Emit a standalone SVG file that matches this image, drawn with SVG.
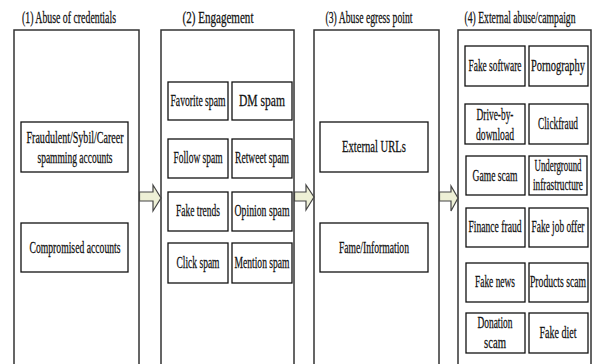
<svg xmlns="http://www.w3.org/2000/svg" width="592" height="364" viewBox="0 0 592 364">
<style>
text{font-family:"Liberation Serif","Times New Roman",serif;font-size:16px;fill:#111;stroke:#111;stroke-width:0.25;text-anchor:middle;transform:scale(0.6,1)}
.outer{fill:#fff;stroke:#333;stroke-width:1.5}
.inner{fill:#fff;stroke:#111;stroke-width:1.3}
.arrow{fill:#eef0d6;stroke:#444;stroke-width:1.2;stroke-linejoin:miter}
</style>
<rect width="592" height="364" fill="#fff"/>
<g id="col1">
<text x="115" y="23" textLength="156.7" lengthAdjust="spacingAndGlyphs">(1) Abuse of credentials</text>
<rect class="outer" x="14" y="30" width="125" height="340"/>
</g>
<g id="col2">
<text x="363.3" y="23" textLength="118.3" lengthAdjust="spacingAndGlyphs">(2) Engagement</text>
<rect class="outer" x="161" y="30" width="133" height="340"/>
</g>
<g id="col3">
<text x="615" y="23" textLength="145" lengthAdjust="spacingAndGlyphs">(3) Abuse egress point</text>
<rect class="outer" x="314" y="30" width="125" height="340"/>
</g>
<g id="col4">
<text x="866.7" y="23" textLength="185" lengthAdjust="spacingAndGlyphs">(4) External abuse/campaign</text>
<rect class="outer" x="458" y="30" width="133" height="340"/>
</g>
<g id="n-fraud"><rect class="inner" x="21" y="122" width="107" height="50"/>
<text x="125" y="143" textLength="161.7" lengthAdjust="spacingAndGlyphs">Fraudulent/Sybil/Career</text>
<text x="125" y="163" textLength="125" lengthAdjust="spacingAndGlyphs">spamming accounts</text></g>
<g id="n-comp"><rect class="inner" x="21" y="223" width="107" height="49"/>
<text x="125" y="253" textLength="151.7" lengthAdjust="spacingAndGlyphs">Compromised accounts</text></g>
<g id="n-fav"><rect class="inner" x="168" y="82" width="60" height="38"/>
<text x="330" y="106.5" textLength="91.7" lengthAdjust="spacingAndGlyphs">Favorite spam</text></g>
<g id="n-dm"><rect class="inner" x="232" y="82" width="60" height="38"/>
<text x="436.7" y="106.5" textLength="76.7" lengthAdjust="spacingAndGlyphs">DM spam</text></g>
<g id="n-follow"><rect class="inner" x="168" y="139" width="60" height="39"/>
<text x="330" y="163.5" textLength="81.7" lengthAdjust="spacingAndGlyphs">Follow spam</text></g>
<g id="n-retweet"><rect class="inner" x="232" y="139" width="60" height="39"/>
<text x="436.7" y="163.5" textLength="90" lengthAdjust="spacingAndGlyphs">Retweet spam</text></g>
<g id="n-trends"><rect class="inner" x="168" y="192" width="60" height="39"/>
<text x="330" y="216.5" textLength="73.3" lengthAdjust="spacingAndGlyphs">Fake trends</text></g>
<g id="n-opinion"><rect class="inner" x="232" y="192" width="60" height="39"/>
<text x="436.7" y="216.5" textLength="91.7" lengthAdjust="spacingAndGlyphs">Opinion spam</text></g>
<g id="n-click"><rect class="inner" x="168" y="243" width="60" height="40"/>
<text x="330" y="268" textLength="71.7" lengthAdjust="spacingAndGlyphs">Click spam</text></g>
<g id="n-mention"><rect class="inner" x="232" y="243" width="60" height="40"/>
<text x="436.7" y="268" textLength="91.7" lengthAdjust="spacingAndGlyphs">Mention spam</text></g>
<g id="n-urls"><rect class="inner" x="320" y="122" width="108" height="50"/>
<text x="623.3" y="152.5" textLength="106.7" lengthAdjust="spacingAndGlyphs">External URLs</text></g>
<g id="n-fame"><rect class="inner" x="320" y="223" width="108" height="49"/>
<text x="623.3" y="253" textLength="116.7" lengthAdjust="spacingAndGlyphs">Fame/Information</text></g>
<g id="n-fsoft"><rect class="inner" x="465" y="46" width="60" height="40"/>
<text x="825" y="71" textLength="88.3" lengthAdjust="spacingAndGlyphs">Fake software</text></g>
<g id="n-porn"><rect class="inner" x="529" y="46" width="59" height="40"/>
<text x="930" y="71" textLength="90" lengthAdjust="spacingAndGlyphs">Pornography</text></g>
<g id="n-drive"><rect class="inner" x="465" y="104" width="60" height="40"/>
<text x="825" y="120" textLength="61.7" lengthAdjust="spacingAndGlyphs">Drive-by-</text>
<text x="825" y="140" textLength="63.3" lengthAdjust="spacingAndGlyphs">download</text></g>
<g id="n-clickfraud"><rect class="inner" x="529" y="104" width="59" height="40"/>
<text x="930" y="129.5" textLength="66.7" lengthAdjust="spacingAndGlyphs">Clickfraud</text></g>
<g id="n-game"><rect class="inner" x="466" y="156" width="59" height="39"/>
<text x="825" y="181" textLength="75" lengthAdjust="spacingAndGlyphs">Game scam</text></g>
<g id="n-under"><rect class="inner" x="529" y="156" width="58" height="39"/>
<text x="930" y="171.5" textLength="78.3" lengthAdjust="spacingAndGlyphs">Underground</text>
<text x="930" y="190" textLength="83.3" lengthAdjust="spacingAndGlyphs">infrastructure</text></g>
<g id="n-finance"><rect class="inner" x="466" y="208" width="59" height="39"/>
<text x="825" y="232" textLength="88.3" lengthAdjust="spacingAndGlyphs">Finance fraud</text></g>
<g id="n-job"><rect class="inner" x="529" y="208" width="59" height="39"/>
<text x="930" y="232" textLength="88.3" lengthAdjust="spacingAndGlyphs">Fake job offer</text></g>
<g id="n-news"><rect class="inner" x="466" y="263" width="59" height="39"/>
<text x="825" y="287" textLength="66.7" lengthAdjust="spacingAndGlyphs">Fake news</text></g>
<g id="n-products"><rect class="inner" x="529" y="263" width="59" height="39"/>
<text x="930" y="287" textLength="93.3" lengthAdjust="spacingAndGlyphs">Products scam</text></g>
<g id="n-donation"><rect class="inner" x="466" y="313" width="59" height="40"/>
<text x="825" y="328" textLength="58.3" lengthAdjust="spacingAndGlyphs">Donation</text>
<text x="825" y="348" textLength="36.7" lengthAdjust="spacingAndGlyphs">scam</text></g>
<g id="n-diet"><rect class="inner" x="529" y="313" width="59" height="40"/>
<text x="930" y="338.5" textLength="61.7" lengthAdjust="spacingAndGlyphs">Fake diet</text></g>
<g id="connectors">
<polygon class="arrow" points="139.5,192 153,192 153,185 161,198 153,211 153,201 139.5,201"/>
<polygon class="arrow" points="294.5,192 306,192 306,185 314,197 306,210 306,201 294.5,201"/>
<polygon class="arrow" points="439.5,192 451,192 451,186 458,198 451,211 451,201 439.5,201"/>
</g>
</svg>
